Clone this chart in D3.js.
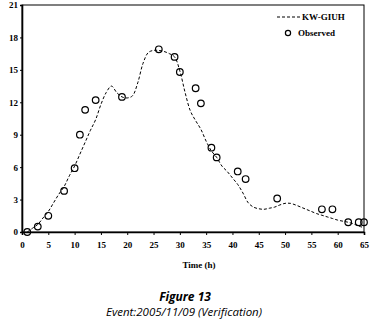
<!DOCTYPE html>
<html><head><meta charset="utf-8">
<script src="https://cdn.jsdelivr.net/npm/d3@7"></script>
<style>body{margin:0;background:#fff}svg{display:block}</style>
</head><body>
<svg id="c" width="371" height="319"></svg>
<script>
const modelTime = [1,2,3,4,5,6,7,8,9,10,11,12,13,14,15,16,17,18,19,20,21,22,23,24,25,26,27,28,29,30,31,32,33,34,35,36,37,38,39,40,41,42,43,44,45,46,47,48,49,50,51,52,53,54,55,56,57,58,59,60,61,62,63,64,65];
const modelQ = [0,0.35,0.7,1.3,1.9,2.7,3.5,4.2,5.2,6.1,7.2,8.3,9.4,10.4,11.8,12.9,13.5,12.9,12.5,12.4,12.6,13.8,15.6,16.6,16.8,16.8,16.7,16.5,16.2,14.9,12.9,11.2,10.3,9.5,8.4,7.5,6.9,6.1,5.6,5.0,4.4,3.6,2.7,2.3,2.15,2.1,2.2,2.3,2.5,2.65,2.65,2.5,2.3,2.1,1.9,1.7,1.55,1.4,1.25,1.1,1.0,0.9,0.75,0.55,0.4];
const obsTime = [1,3,5,8,10,11,12,14,19,26,29,30,33,34,36,37,41,42.5,48.5,57,59,62,64,65];
const obsQ = [0,0.5,1.5,3.8,5.9,9.0,11.3,12.2,12.5,16.9,16.2,14.8,13.3,11.9,7.8,6.9,5.6,4.9,3.1,2.1,2.1,0.9,0.9,0.9];
const xTicks = [0,5,10,15,20,25,30,35,40,45,50,55,60,65];
const yTicks = [0,3,6,9,12,15,18,21];
const seriesNames = ["KW-GIUH","Observed"];

const svg = d3.select("#c");
const L=22, R=364, T=5, B=232;
const x = d3.scaleLinear().domain([0,65]).range([L,R]);
const y = d3.scaleLinear().domain([0,21]).range([B,T]);
const serif = "'Liberation Serif','Times New Roman',serif";

svg.append("rect").attr("x",L).attr("y",T).attr("width",R-L).attr("height",B-T)
  .attr("fill","none").attr("stroke","#000").attr("stroke-width",1);

const xa = svg.append("g").attr("transform",`translate(0,${B})`)
  .call(d3.axisBottom(x).tickValues(xTicks).tickSize(3).tickPadding(7).tickFormat(d3.format("d")));
const ya = svg.append("g").attr("transform",`translate(${L},0)`)
  .call(d3.axisLeft(y).tickValues(yTicks).tickSize(2).tickPadding(2).tickFormat(d3.format("d")));
[xa,ya].forEach(a=>{
  a.select(".domain").attr("stroke","#000").attr("stroke-width",1.6);
  a.selectAll(".tick line").attr("stroke","#000").attr("stroke-width",1);
  a.selectAll("text").attr("font-family",serif).attr("font-weight","bold").attr("font-size",9).attr("fill","#000");
});

const pts = modelTime.map((t,i)=>[t,modelQ[i]]);
svg.append("path").datum(pts)
  .attr("d", d3.line().x(d=>x(d[0])).y(d=>y(d[1])).curve(d3.curveCatmullRom.alpha(0.5)))
  .attr("fill","none").attr("stroke","#000").attr("stroke-width",1).attr("stroke-dasharray","3,2");

svg.append("g").selectAll("circle").data(obsTime.map((t,i)=>[t,obsQ[i]])).join("circle")
  .attr("cx",d=>x(d[0])).attr("cy",d=>y(d[1])).attr("r",3.3)
  .attr("fill","none").attr("stroke","#000").attr("stroke-width",1.2);

const lg = svg.append("g");
lg.append("line").attr("x1",277).attr("x2",300).attr("y1",17).attr("y2",17)
  .attr("stroke","#000").attr("stroke-width",1).attr("stroke-dasharray","3,2");
lg.append("text").attr("x",302).attr("y",20).text(seriesNames[0])
  .attr("font-family",serif).attr("font-weight","bold").attr("font-size",9);
lg.append("circle").attr("cx",288).attr("cy",33).attr("r",2.6)
  .attr("fill","none").attr("stroke","#000").attr("stroke-width",1.2);
lg.append("text").attr("x",298).attr("y",36).text(seriesNames[1])
  .attr("font-family",serif).attr("font-weight","bold").attr("font-size",9);

svg.append("text").attr("x",199).attr("y",268).attr("text-anchor","middle").text("Time (h)")
  .attr("font-family",serif).attr("font-weight","bold").attr("font-size",9);

svg.append("text").attr("x",185).attr("y",301).attr("text-anchor","middle").text("Figure 13")
  .attr("font-family","'Open Sans','DejaVu Sans',sans-serif").attr("font-weight","bold").attr("font-style","italic").attr("font-size",12);
svg.append("text").attr("x",184).attr("y",316).attr("text-anchor","middle").text("Event:2005/11/09 (Verification)")
  .attr("font-family","'Open Sans','DejaVu Sans',sans-serif").attr("font-style","italic").attr("font-size",11.5);
</script>
</body></html>
